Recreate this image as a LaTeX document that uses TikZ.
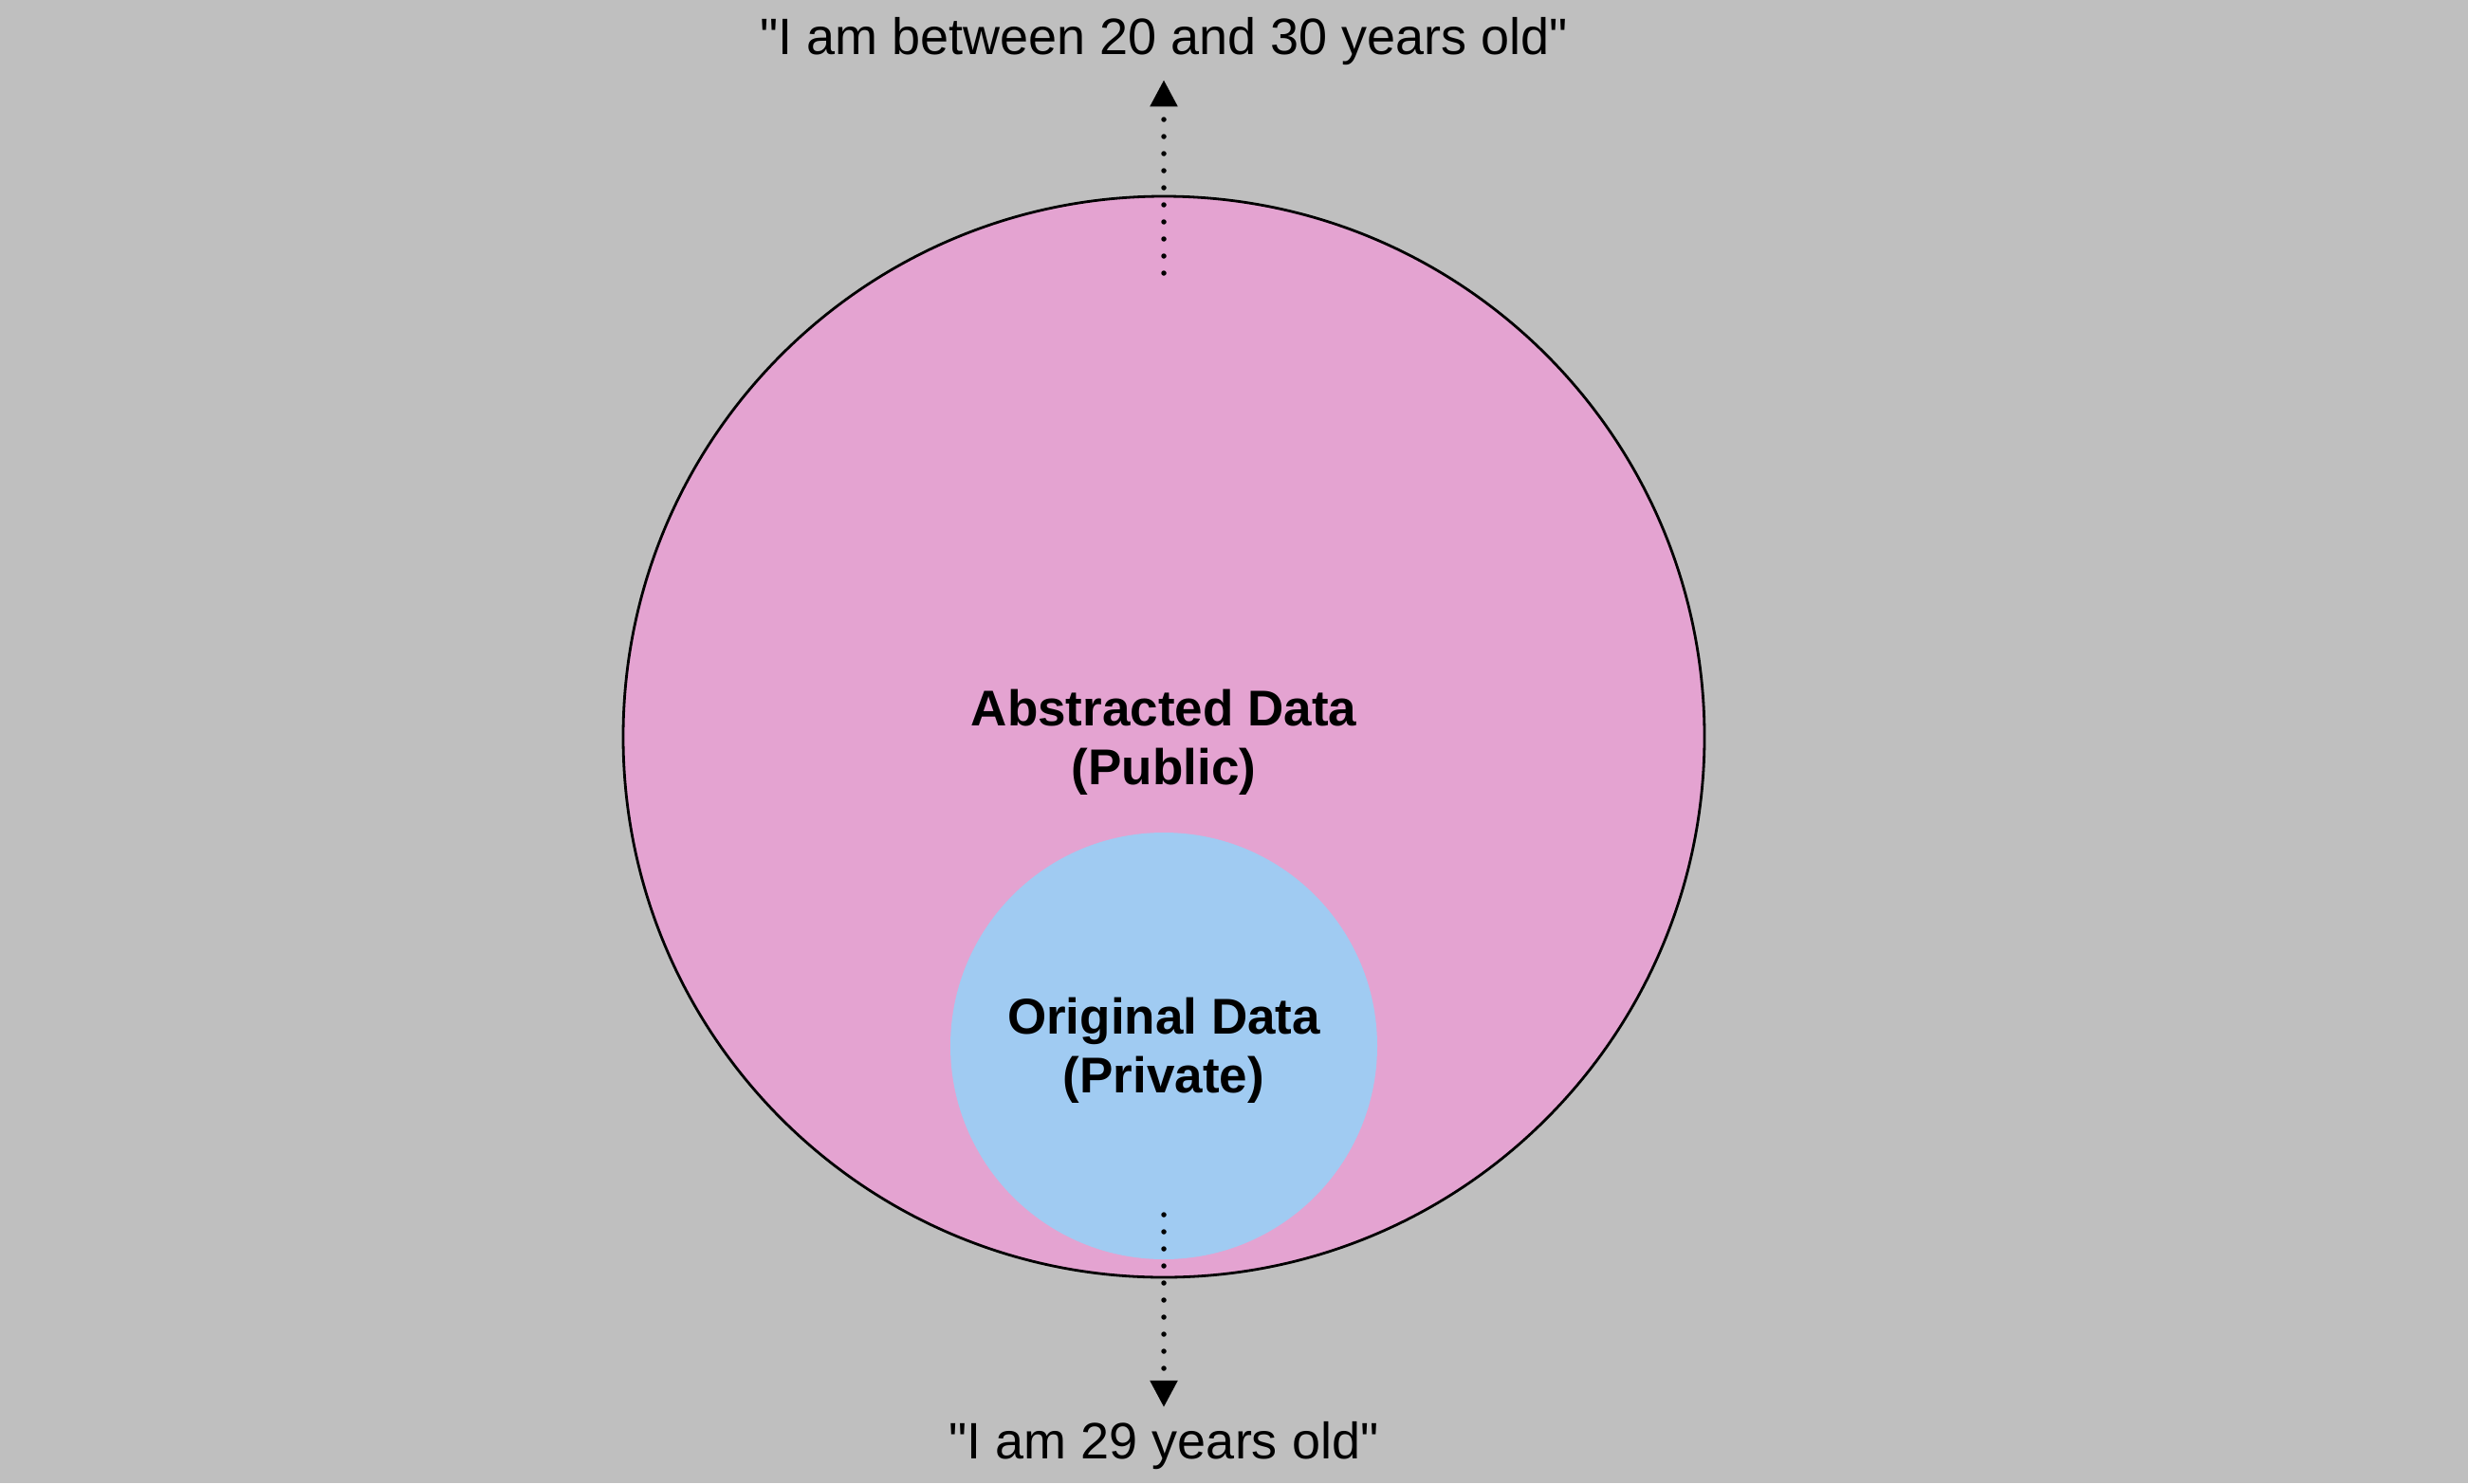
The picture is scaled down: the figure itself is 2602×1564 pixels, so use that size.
\documentclass[tikz,border=0pt]{standalone}
\usepackage{fontspec}
\setmainfont{Liberation Sans}
\usetikzlibrary{arrows.meta}
\definecolor{bgc}{RGB}{191,191,191}
\definecolor{pinkc}{RGB}{228,163,209}
\definecolor{bluec}{RGB}{160,203,242}
\begin{document}
\begin{tikzpicture}[x=1pt,y=-1pt,
  lbl/.style={font=\fontsize{54}{62}\selectfont, inner sep=0pt, anchor=base},
  blbl/.style={font=\fontsize{53}{62}\selectfont\bfseries, inner sep=0pt, anchor=base},
  dotarrow/.style={line width=5.5pt, line cap=round, dash pattern=on 0pt off 18pt,
    -{Triangle[width=28pt,length=28pt]}}]
\fill[bgc] (0,0) rectangle (2602,1564);
\useasboundingbox (0,0) rectangle (2602,1564);
\node[circle, draw=black, line width=2.8pt, fill=pinkc, minimum size=1140pt, inner sep=0pt] (outer) at (1227,777) {};
\node[circle, fill=bluec, minimum size=450pt, inner sep=0pt] (inner) at (1227,1103) {};
\node[blbl] (abs) at (1227,765) {\begin{tabular}[t]{@{}c@{}}Abstracted Data\\(Public)\end{tabular}};
\node[blbl] (orig) at (1227,1090) {\begin{tabular}[t]{@{}c@{}}Original Data\\(Private)\end{tabular}};
\node[lbl] (ttop) at (1227,57) {\textquotedbl I am between 20 and 30 years old\textquotedbl};
\node[lbl] (tbot) at (1227,1538) {\textquotedbl I am 29 years old\textquotedbl};
\coordinate (topstart) at (1227,288);
\coordinate (botstart) at (1227,1281);
\draw[dotarrow, shorten >=16pt] (topstart) -- (ttop.south);
\draw[dotarrow, shorten >=14.8pt] (botstart) -- (tbot.north);
\end{tikzpicture}
\end{document}
